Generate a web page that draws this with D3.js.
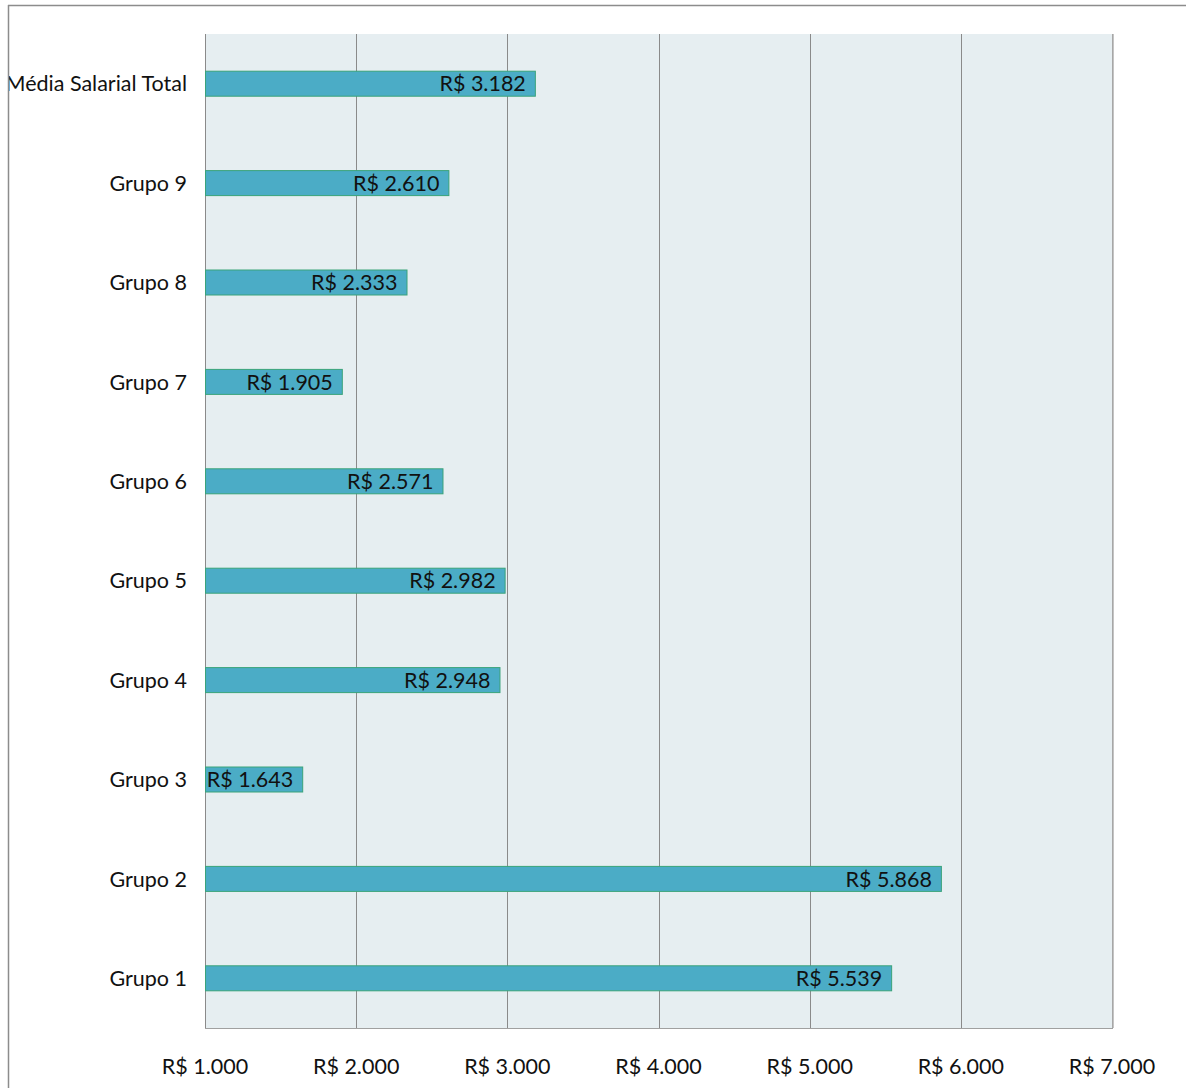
<!DOCTYPE html>
<html>
<head>
<meta charset="utf-8">
<script src="https://cdn.jsdelivr.net/npm/d3@7"></script>
<style>
  html, body { margin: 0; padding: 0; background: #fff; }
  svg { display: block; }
  text { font-family: Lato, "Open Sans", sans-serif; fill: #111; }
</style>
</head>
<body>
<svg id="chart" width="1186" height="1088"></svg>
<script>
// Salary averages per group (R$)
const categories = ["Média Salarial Total", "Grupo 9", "Grupo 8", "Grupo 7", "Grupo 6",
                    "Grupo 5", "Grupo 4", "Grupo 3", "Grupo 2", "Grupo 1"];
const values = [3182, 2610, 2333, 1905, 2571, 2982, 2948, 1643, 5868, 5539];
const tickValues = [1000, 2000, 3000, 4000, 5000, 6000, 7000];

const svg = d3.select("#chart");
const W = 1186, H = 1088;
const plot = { left: 205, right: 1112, top: 34, bottom: 1028 };

const fmt = v => "R$ " + d3.format(",")(v).replace(/,/g, ".");

// Everything inside the chart frame is clipped to it
svg.append("defs").append("clipPath").attr("id", "frame")
  .append("rect").attr("x", 9).attr("y", 6).attr("width", W).attr("height", H);
const g = svg.append("g").attr("clip-path", "url(#frame)");

// Outer chart frame (top and left edges visible)
svg.append("line").attr("x1", 8).attr("x2", W).attr("y1", 5.5).attr("y2", 5.5)
  .attr("stroke", "#8c8c8c").attr("stroke-width", 1.5);
svg.append("line").attr("x1", 8.5).attr("x2", 8.5).attr("y1", 5).attr("y2", H)
  .attr("stroke", "#8c8c8c").attr("stroke-width", 1.5);

const x = d3.scaleLinear().domain([1000, 7000]).range([plot.left, plot.right]);
const y = d3.scaleBand().domain(categories).range([plot.top, plot.bottom]);

// Plot background
g.append("rect")
  .attr("x", plot.left).attr("y", plot.top)
  .attr("width", plot.right - plot.left).attr("height", plot.bottom - plot.top)
  .attr("fill", "#e6eef1");

// Vertical gridlines
g.append("g").selectAll("line").data(tickValues).join("line")
  .attr("x1", d => Math.round(x(d)) + 0.5).attr("x2", d => Math.round(x(d)) + 0.5)
  .attr("y1", plot.top).attr("y2", plot.bottom)
  .attr("stroke", "#8a8a8a").attr("stroke-width", 1);

// Plot border lines: left axis, bottom, right edge
g.append("line").attr("x1", plot.left + 0.5).attr("x2", plot.left + 0.5)
  .attr("y1", plot.top).attr("y2", plot.bottom).attr("stroke", "#8a8a8a");
g.append("line").attr("x1", plot.left).attr("x2", plot.right + 1)
  .attr("y1", plot.bottom + 0.5).attr("y2", plot.bottom + 0.5).attr("stroke", "#a0a0a0");
g.append("line").attr("x1", plot.right + 1).attr("x2", plot.right + 1)
  .attr("y1", plot.top).attr("y2", plot.bottom).attr("stroke", "#b0b0b0").attr("stroke-width", 1.5);

// Bars
const barH = 25;
const rows = categories.map((c, i) => ({ cat: c, val: values[i] }));
g.append("g").selectAll("rect").data(rows).join("rect")
  .attr("x", x(1000) + 0.5)
  .attr("y", d => y(d.cat) + y.bandwidth() / 2 - barH / 2)
  .attr("width", d => x(d.val) - x(1000))
  .attr("height", barH)
  .attr("fill", "#4bacc6")
  .attr("stroke", "#3aa37a")
  .attr("stroke-width", 1);

// Value labels inside bar ends
g.append("g").selectAll("text").data(rows).join("text")
  .attr("x", d => x(d.val) - 9)
  .attr("y", d => y(d.cat) + y.bandwidth() / 2)
  .attr("dy", "0.36em")
  .attr("text-anchor", "end")
  .attr("font-size", 21.5)
  .text(d => fmt(d.val));

// Category labels
g.append("g").selectAll("text").data(categories).join("text")
  .attr("x", 187)
  .attr("y", d => y(d) + y.bandwidth() / 2)
  .attr("dy", "0.36em")
  .attr("text-anchor", "end")
  .attr("font-size", 21.5)
  .text(d => d);

// Axis tick labels
g.append("g").selectAll("text").data(tickValues).join("text")
  .attr("x", d => x(d))
  .attr("y", 1066)
  .attr("dy", "0.36em")
  .attr("text-anchor", "middle")
  .attr("font-size", 21.5)
  .text(d => fmt(d));
</script>
</body>
</html>
